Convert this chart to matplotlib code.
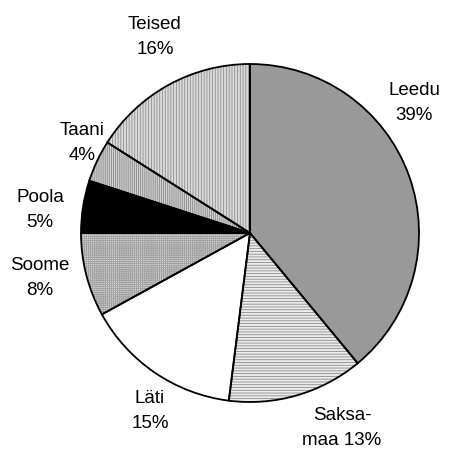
import matplotlib
matplotlib.use("Agg")
import matplotlib.pyplot as plt

# andmed
riigid = ["Leedu", "Saksa-\nmaa", "Läti", "Soome", "Poola", "Taani", "Teised"]
osakaal = [39, 13, 15, 8, 5, 4, 16]

# stiilid (sektorite täide)
varvid = ["#999999", "#ececec", "white", "#d6d6d6", "black", "#d2d2d2", "#dadada"]
mustrid = [None, "------", None, "++++++++", None, "||||||||", "||||||"]
mustri_varvid = [None, "#8a8a8a", None, "#a0a0a0", None, "#888888", "#8e8e8e"]

# siltide asukohad (pikslites, vasak-ülemine nurk)
sildi_koht = [(414, 103), (342, 428), (150, 411), (40, 278), (40, 210), (82, 143), (155, 37)]

plt.rcParams["font.family"] = ["Liberation Sans", "DejaVu Sans"]
plt.rcParams["hatch.linewidth"] = 0.6

fig = plt.figure(figsize=(4.56, 4.5), dpi=100)
ax = fig.add_axes([0, 0, 1, 1])

kese = (250, 450 - 233)
raadius = 169

# esimene kiht: täide ja mustrid
kiilud, _ = ax.pie(osakaal, startangle=90, counterclock=False, center=kese,
                   radius=raadius, colors=varvid, frame=True,
                   wedgeprops=dict(linewidth=0))
for k, m, mv in zip(kiilud, mustrid, mustri_varvid):
    if m:
        k.set_hatch(m)
        k.set_edgecolor(mv)

# teine kiht: mustad ääred
ax.pie(osakaal, startangle=90, counterclock=False, center=kese, radius=raadius,
       frame=True, wedgeprops=dict(fill=False, linewidth=1.3, edgecolor="black"))
ax.set_xlim(0, 456)
ax.set_ylim(0, 450)
ax.set_aspect("equal")
ax.axis("off")

for nimi, p, (x, y) in zip(riigid, osakaal, sildi_koht):
    if nimi.endswith("-\nmaa"):
        tekst = nimi + " " + str(p) + "%"
    else:
        tekst = nimi + "\n" + str(p) + "%"
    ax.text(x, 450 - y, tekst, ha="center", va="center", fontsize=13.5,
            linespacing=1.55)

fig.savefig("out.png", dpi=100)
